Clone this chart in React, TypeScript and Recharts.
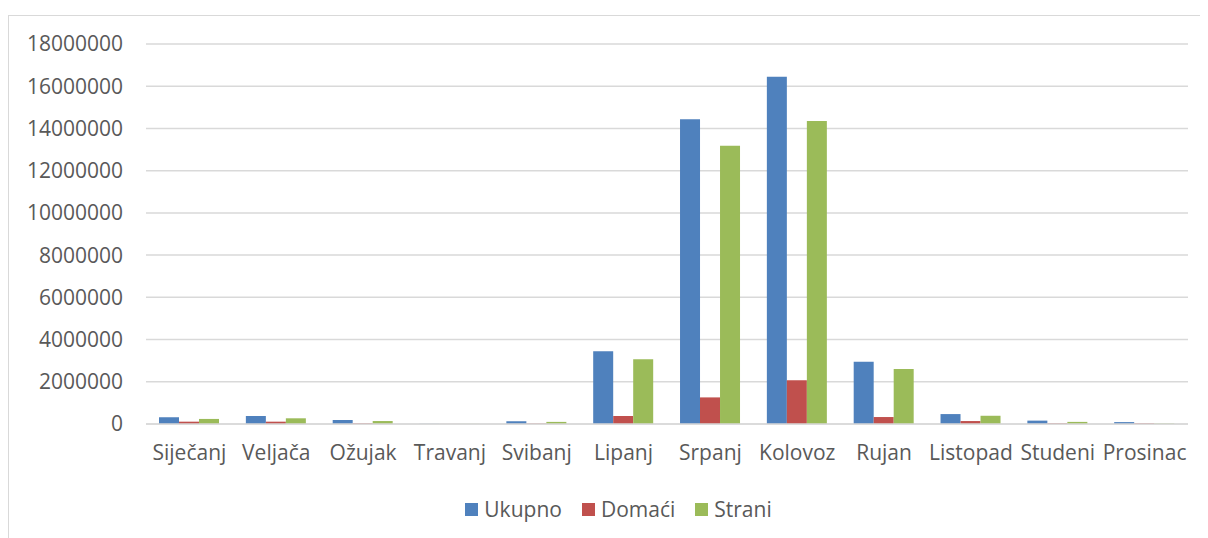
import { BarChart, Bar, XAxis, YAxis, CartesianGrid, Legend } from 'recharts';

const months = ['Siječanj', 'Veljača', 'Ožujak', 'Travanj', 'Svibanj', 'Lipanj', 'Srpanj', 'Kolovoz', 'Rujan', 'Listopad', 'Studeni', 'Prosinac'];
const ukupno = [320000, 380000, 190000, 8000, 130000, 3450000, 14440000, 16450000, 2950000, 470000, 160000, 90000];
const domaci = [110000, 110000, 30000, 3000, 20000, 380000, 1260000, 2070000, 330000, 140000, 30000, 30000];
const strani = [240000, 270000, 140000, 5000, 100000, 3070000, 13180000, 14350000, 2610000, 390000, 100000, 20000];
const yTicks = [0, 2000000, 4000000, 6000000, 8000000, 10000000, 12000000, 14000000, 16000000, 18000000];

const series = [
  { key: 'Ukupno', color: '#4F81BD' },
  { key: 'Domaći', color: '#C0504D' },
  { key: 'Strani', color: '#9BBB59' },
];

const data = months.map((m, i) => ({ month: m, Ukupno: ukupno[i], 'Domaći': domaci[i], Strani: strani[i] }));

const FONT = '"Open Sans", sans-serif';
const TEXT = '#595959';

const LegendContent = () => (
  <div style={{ display: 'flex', justifyContent: 'center', alignItems: 'center', fontFamily: FONT, fontSize: 21, color: TEXT, lineHeight: '30px', paddingLeft: 40 }}>
    {series.map((s) => (
      <span key={s.key} style={{ display: 'flex', alignItems: 'center', margin: '0 10px' }}>
        <span style={{ width: 13, height: 13, background: s.color, display: 'inline-block', marginRight: 6 }} />
        {s.key}
      </span>
    ))}
  </div>
);

export default function App() {
  return (
    <div style={{ marginTop: 7, width: 1199, height: 522, borderTop: '1px solid #d9d9d9', borderLeft: '1px solid #d9d9d9', background: '#fff' }}>
      <BarChart width={1199} height={522} data={data} margin={{ top: 28, right: 20, left: 0, bottom: 14 }} barCategoryGap="15%" barGap={0}>
        <CartesianGrid vertical={false} stroke="#d9d9d9" strokeWidth={1.5} />
        <XAxis
          dataKey="month"
          height={70}
          axisLine={{ stroke: '#d9d9d9', strokeWidth: 1.5 }}
          tickLine={false}
          tickSize={0}
          tickMargin={21}
          interval={0}
          tick={{ fill: TEXT, fontSize: 21, fontFamily: FONT }}
        />
        <YAxis
          width={137}
          domain={[0, 18000000]}
          ticks={yTicks}
          axisLine={false}
          tickLine={false}
          tickSize={0}
          tickMargin={23}
          tick={{ fill: TEXT, fontSize: 21, fontFamily: FONT }}
        />
        <Legend verticalAlign="bottom" height={30} content={<LegendContent />} />
        {series.map((s) => (
          <Bar key={s.key} dataKey={s.key} fill={s.color} isAnimationActive={false} />
        ))}
      </BarChart>
    </div>
  );
}
